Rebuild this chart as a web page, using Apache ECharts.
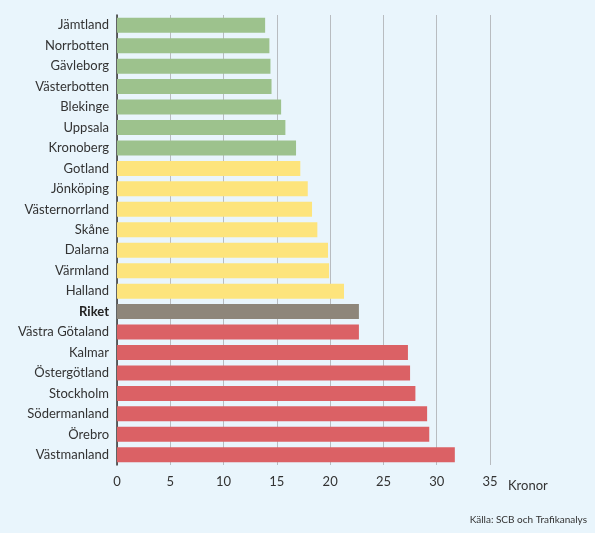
<!DOCTYPE html>
<html><head><meta charset="utf-8">
<script src="https://cdn.jsdelivr.net/npm/echarts@6/dist/echarts.min.js"></script>
<style>html,body{margin:0;background:#e9f5fc}#c{width:595px;height:533px}</style>
</head><body><div id="c"></div>
<script>
const regions = ['Jämtland','Norrbotten','Gävleborg','Västerbotten','Blekinge','Uppsala','Kronoberg','Gotland','Jönköping','Västernorrland','Skåne','Dalarna','Värmland','Halland','Riket','Västra Götaland','Kalmar','Östergötland','Stockholm','Södermanland','Örebro','Västmanland']
const values = [13.9,14.3,14.4,14.5,15.4,15.8,16.8,17.2,17.9,18.3,18.8,19.8,19.9,21.3,22.7,22.7,27.3,27.5,28.0,29.1,29.3,31.7]
const groups = ['g','g','g','g','g','g','g','y','y','y','y','y','y','y','r','x','x','x','x','x','x','x']
const groupColors = { g: '#9dc28d', y: '#fde47c', r: '#8e867a', x: '#db6165' }

const chart = echarts.init(document.getElementById('c'))
chart.setOption({
    backgroundColor: '#e9f5fc',
    textStyle: { fontFamily: 'Lato' },
    grid: { left: 117, right: 105, top: 15, bottom: 68 },
    xAxis: {
        type: 'value', min: 0, max: 35, interval: 5,
        name: 'Kronor', nameLocation: 'end', nameGap: 18,
        nameTextStyle: { color: '#333', fontSize: 13, verticalAlign: 'top', padding: [14, 0, 0, 0] },
        axisLine: { show: false },
        axisTick: { show: false },
        axisLabel: { color: '#333', fontSize: 13, margin: 10 },
        splitLine: { lineStyle: { color: '#b8bcc0', width: 1 } }
    },
    yAxis: {
        type: 'category', data: regions, inverse: true,
        axisLine: { lineStyle: { color: '#333', width: 1.5 } },
        axisTick: { show: false },
        axisLabel: {
            color: '#333', fontSize: 13, margin: 8,
            formatter: v => v === 'Riket' ? '{b|' + v + '}' : v,
            rich: { b: { fontWeight: 'bold', fontSize: 13, color: '#222', fontFamily: 'Lato' } }
        }
    },
    series: [{
        type: 'bar', barWidth: 15,
        data: values.map((v, i) => ({ value: v, itemStyle: { color: groupColors[groups[i]] } }))
    }],
    graphic: [{
        type: 'text', right: 8, bottom: 8,
        style: { text: 'Källa: SCB och Trafikanalys', fill: '#333', fontSize: 10, fontFamily: 'Lato' }
    }]
})
</script></body></html>
